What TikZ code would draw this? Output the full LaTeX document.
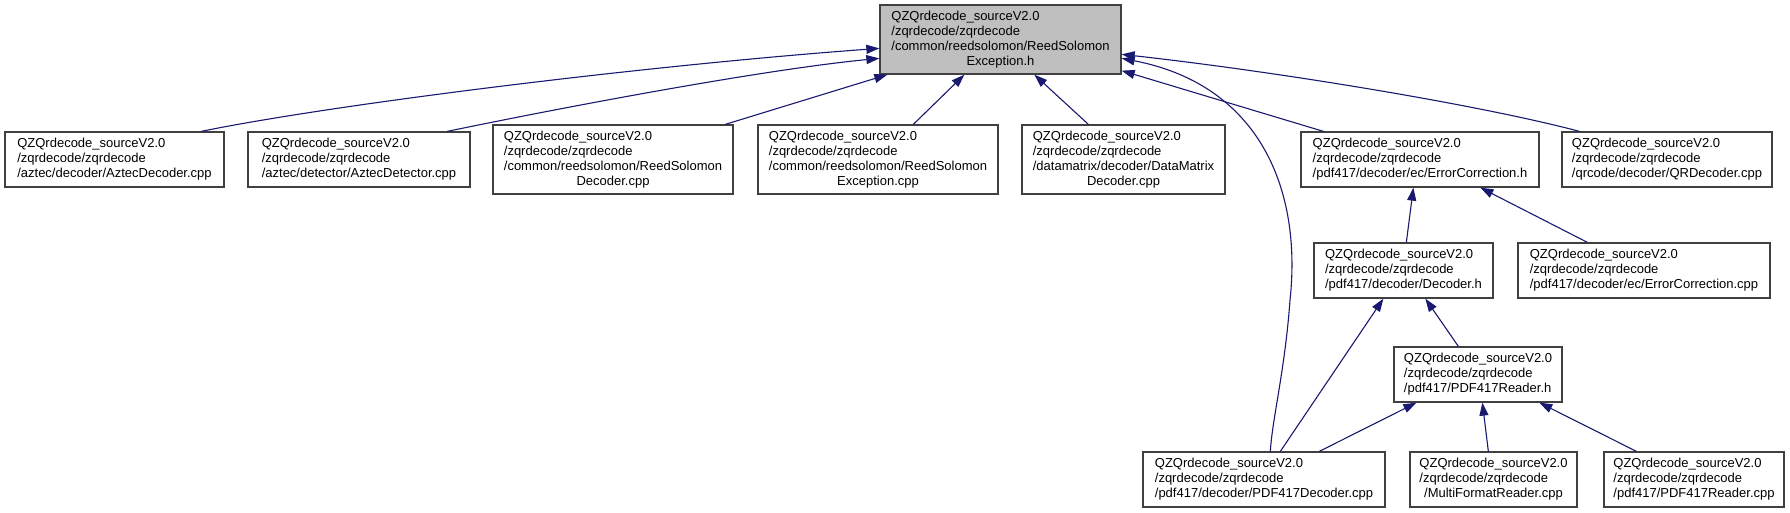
\documentclass[tikz,border=0pt]{standalone}
\usepackage{fontspec}
\setmainfont{Liberation Sans}
\usetikzlibrary{arrows.meta}
\definecolor{edgecol}{HTML}{191970}
\definecolor{boxline}{HTML}{404040}
\definecolor{mainfill}{HTML}{BFBFBF}
\newcommand{\boxtext}[1]{\begin{tabular}{@{}l@{}}#1\end{tabular}}
\newcommand{\ctr}[1]{\multicolumn{1}{@{}c@{}}{#1}}
\newcommand{\qz}{QZQrdecode\_sourceV2.0}
\tikzset{
  box/.style={draw=boxline, line width=1.3pt, fill=white, rectangle, inner sep=0pt,
    font=\fontsize{13}{15}\selectfont, minimum height=55pt},
  tall/.style={minimum height=69pt},
  mainbox/.style={box, tall, fill=mainfill},
  edge/.style={draw=edgecol, line width=1.1pt, -{Triangle[length=13pt,width=9pt]}, edgecol}
}
\begin{document}
\begin{tikzpicture}[x=1pt,y=-1pt]
\useasboundingbox[fill=white] (0,0) rectangle (1790,512);

\node[mainbox, minimum width=241pt] (main) at (1000.5,39.5)
  {\boxtext{\qz\\ /zqrdecode/zqrdecode\\ /common/reedsolomon/ReedSolomon\\ \ctr{Exception.h}}};

\node[box, minimum width=219pt] (ad) at (114.5,159.5)
  {\boxtext{\qz\\ /zqrdecode/zqrdecode\\ /aztec/decoder/AztecDecoder.cpp}};
\node[box, minimum width=222pt] (adt) at (359,159.5)
  {\boxtext{\qz\\ /zqrdecode/zqrdecode\\ /aztec/detector/AztecDetector.cpp}};
\node[box, tall, minimum width=240pt] (rsd) at (613,159.5)
  {\boxtext{\qz\\ /zqrdecode/zqrdecode\\ /common/reedsolomon/ReedSolomon\\ \ctr{Decoder.cpp}}};
\node[box, tall, minimum width=240pt] (rse) at (878,159.5)
  {\boxtext{\qz\\ /zqrdecode/zqrdecode\\ /common/reedsolomon/ReedSolomon\\ \ctr{Exception.cpp}}};
\node[box, tall, minimum width=203pt] (dm) at (1123.5,159.5)
  {\boxtext{\qz\\ /zqrdecode/zqrdecode\\ /datamatrix/decoder/DataMatrix\\ \ctr{Decoder.cpp}}};
\node[box, minimum width=238pt] (ech) at (1420,159.5)
  {\boxtext{\qz\\ /zqrdecode/zqrdecode\\ /pdf417/decoder/ec/ErrorCorrection.h}};
\node[box, minimum width=210pt] (qr) at (1667,159.5)
  {\boxtext{\qz\\ /zqrdecode/zqrdecode\\ /qrcode/decoder/QRDecoder.cpp}};

\node[box, minimum width=179pt] (dec) at (1403.5,270.5)
  {\boxtext{\qz\\ /zqrdecode/zqrdecode\\ /pdf417/decoder/Decoder.h}};
\node[box, minimum width=252pt] (ecc) at (1644,270.5)
  {\boxtext{\qz\\ /zqrdecode/zqrdecode\\ /pdf417/decoder/ec/ErrorCorrection.cpp}};

\node[box, minimum width=168pt] (pr) at (1478,374.5)
  {\boxtext{\qz\\ /zqrdecode/zqrdecode\\ /pdf417/PDF417Reader.h}};

\node[box, minimum width=242pt] (pd) at (1264,479.5)
  {\boxtext{\qz\\ /zqrdecode/zqrdecode\\ /pdf417/decoder/PDF417Decoder.cpp}};
\node[box, minimum width=167pt] (mf) at (1493.5,479.5)
  {\boxtext{\qz\\ /zqrdecode/zqrdecode\\ \ctr{/MultiFormatReader.cpp}}};
\node[box, minimum width=180pt] (prc) at (1694,479.5)
  {\boxtext{\qz\\ /zqrdecode/zqrdecode\\ /pdf417/PDF417Reader.cpp}};

% edges
\draw[edge] ([shift={(197,0)}]ad.north west) .. controls (330,105) and (640,66) .. ([shift={(0,44)}]main.north west);
\draw[edge] ([shift={(200,0)}]adt.north west) .. controls (560,108) and (760,70) .. ([shift={(0,54)}]main.north west);
\draw[edge] ([shift={(233,0)}]rsd.north west) -- ([shift={(8,0)}]main.south west);
\draw[edge] ([shift={(156,0)}]rse.north west) -- ([shift={(85,0)}]main.south west);
\draw[edge] ([shift={(67,0)}]dm.north west) -- ([shift={(155,0)}]main.south west);
\draw[edge] ([shift={(23,0)}]ech.north west) -- ([shift={(0,-4)}]main.south east);
\draw[edge] ([shift={(18,0)}]qr.north west) .. controls (1480,105) and (1280,72) .. ([shift={(0,50)}]main.north east);
\draw[edge] ([shift={(128,0)}]pd.north west) .. controls (1272,420) and (1285,370) .. (1290,300)
   .. controls (1302,190) and (1260,85) .. ([shift={(0,54)}]main.north east);
\draw[edge] ([shift={(93,0)}]dec.north west) -- ([shift={(113,0)}]ech.south west);
\draw[edge] ([shift={(70,0)}]ecc.north west) -- ([shift={(180,0)}]ech.south west);
\draw[edge] ([shift={(138,0)}]pd.north west) -- ([shift={(70,0)}]dec.south west);
\draw[edge] ([shift={(65,0)}]pr.north west) -- ([shift={(112,0)}]dec.south west);
\draw[edge] ([shift={(177,0)}]pd.north west) -- ([shift={(23,0)}]pr.south west);
\draw[edge] ([shift={(79,0)}]mf.north west) -- ([shift={(89,0)}]pr.south west);
\draw[edge] ([shift={(33,0)}]prc.north west) -- ([shift={(146,0)}]pr.south west);
\end{tikzpicture}
\end{document}
